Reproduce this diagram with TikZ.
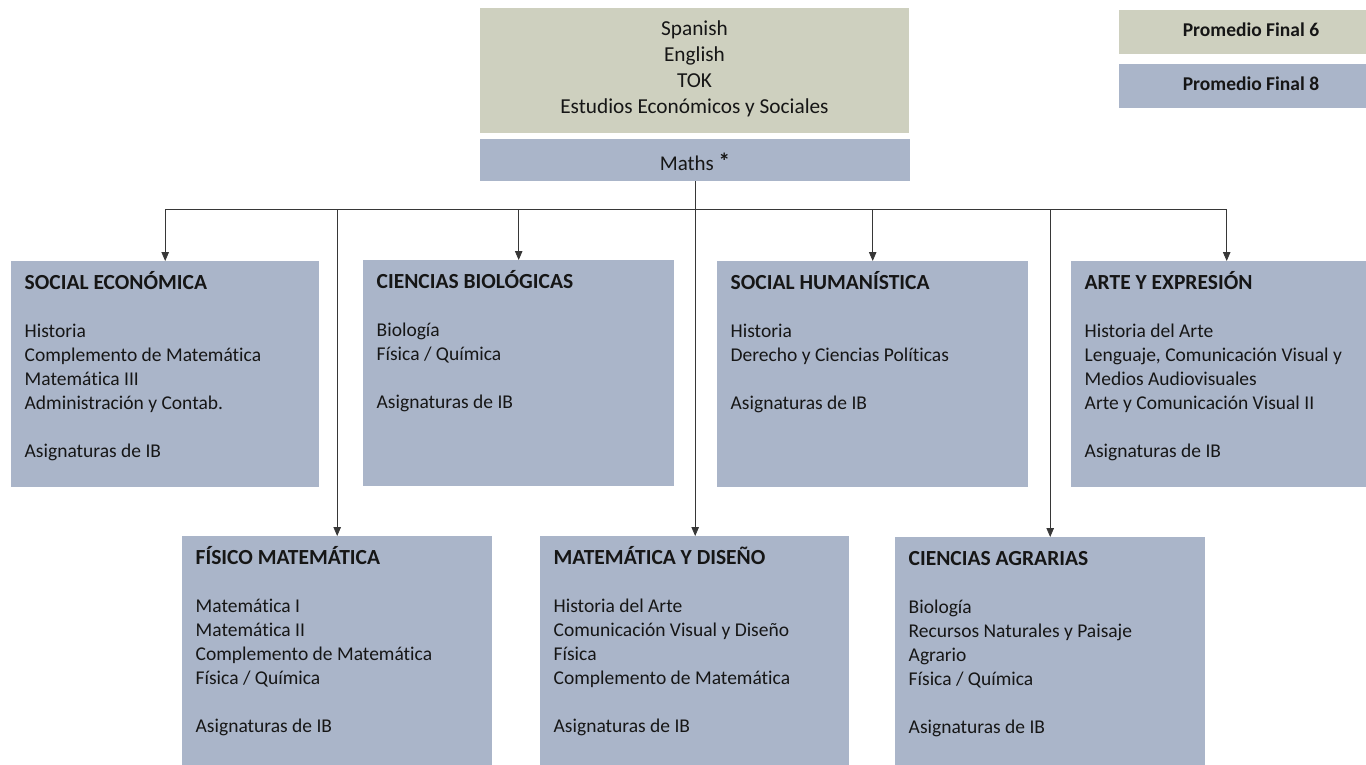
\documentclass[tikz,border=0pt]{standalone}
\usepackage{fontspec}
\setmainfont[RawFeature={-liga}]{Carlito}
\usetikzlibrary{arrows.meta}
\definecolor{beige}{RGB}{206,208,191}
\definecolor{bluebox}{RGB}{170,181,201}
\definecolor{linec}{RGB}{55,55,55}
\definecolor{txt}{RGB}{22,22,22}
\newcommand\ttl[1]{{\fontsize{21.5}{24}\selectfont\bfseries #1}}
\newcommand\mycard[6]{%
  \node[card, minimum width=#4pt, minimum height=#5pt] (#1) at (#2,#3) {};
  \node[cardtext] (#1t) at ([xshift=13.5pt,yshift=-8pt]#1.north west) {\rule{0pt}{20pt}#6};
}
\begin{document}
\begin{tikzpicture}[x=1pt,y=-1pt,
  card/.style={rectangle, fill=bluebox, draw=none, inner sep=0pt, anchor=north west},
  cardtext/.style={anchor=north west, inner sep=0pt, align=left, text=txt, font=\fontsize{19.5}{24}\selectfont},
  conn/.style={draw=linec, line width=0.8pt},
  arr/.style={conn, -{Triangle[length=9pt,width=7.5pt]}},
  legend/.style={rectangle, inner sep=0pt, anchor=north west, minimum width=264pt, minimum height=44pt},
  legendtext/.style={inner sep=0pt, text=txt, font=\fontsize{19.5}{24}\selectfont\bfseries}
]
\useasboundingbox (0,0) rectangle (1366,764);
\fill[white] (0,0) rectangle (1366,764);

% top core box
\node[rectangle, fill=beige, inner sep=0pt, anchor=north west, minimum width=429pt, minimum height=125pt] (core) at (480,8) {};
\node[align=center, inner sep=0pt, text=txt, font=\fontsize{21.3}{26}\selectfont] (coret) at (694.5,69) {Spanish\\English\\TOK\\Estudios Económicos y Sociales};
\node[rectangle, fill=bluebox, inner sep=0pt, anchor=north west, minimum width=430pt, minimum height=42pt] (maths) at (480,139) {};
\node[inner sep=0pt, text=txt, font=\fontsize{21}{26}\selectfont] (mathst) at (695,162) {Maths {\fontsize{23}{26}\selectfont\bfseries\raisebox{1pt}{*}}};

% legend
\node[legend, fill=beige] (p6) at (1119,10) {};
\node[legendtext] (p6t) at (1251,30) {Promedio Final 6};
\node[legend, fill=bluebox] (p8) at (1119,64) {};
\node[legendtext] (p8t) at (1251,84) {Promedio Final 8};

% first row
\mycard{se}{11}{261}{308}{226}{\ttl{SOCIAL ECONÓMICA}\\[24.5pt]Historia\\Complemento de Matemática\\Matemática III\\Administración y Contab.\\[24pt]Asignaturas de IB}
\mycard{cb}{363}{260}{311}{226}{\ttl{CIENCIAS BIOLÓGICAS}\\[24.5pt]Biología\\Física / Química\\[24pt]Asignaturas de IB}
\mycard{sh}{717}{261}{311}{226}{\ttl{SOCIAL HUMANÍSTICA}\\[24.5pt]Historia\\Derecho y Ciencias Políticas\\[24pt]Asignaturas de IB}
\mycard{ae}{1071}{261}{311}{226}{\ttl{ARTE Y EXPRESIÓN}\\[24.5pt]Historia del Arte\\Lenguaje, Comunicación Visual y\\Medios Audiovisuales\\Arte y Comunicación Visual II\\[24pt]Asignaturas de IB}

% second row
\mycard{fm}{182}{536}{310}{235}{\ttl{FÍSICO MATEMÁTICA}\\[24.5pt]Matemática I\\Matemática II\\Complemento de Matemática\\Física / Química\\[24pt]Asignaturas de IB}
\mycard{md}{540}{536}{309}{235}{\ttl{MATEMÁTICA Y DISEÑO}\\[24.5pt]Historia del Arte\\Comunicación Visual y Diseño\\Física\\Complemento de Matemática\\[24pt]Asignaturas de IB}
\mycard{ca}{895}{537}{310}{235}{\ttl{CIENCIAS AGRARIAS}\\[24.5pt]Biología\\Recursos Naturales y Paisaje\\Agrario\\Física / Química\\[24pt]Asignaturas de IB}

% connectors
\coordinate (bus) at (697,209);
\draw[conn] (se.north |- bus) -- (ae.north |- bus);
\draw[arr] (maths.south) -- (maths.south |- md.north);
\foreach \n in {se,cb,sh,ae,fm,ca}
  \draw[arr] (\n.north |- bus) -- (\n.north);
\end{tikzpicture}
\end{document}
